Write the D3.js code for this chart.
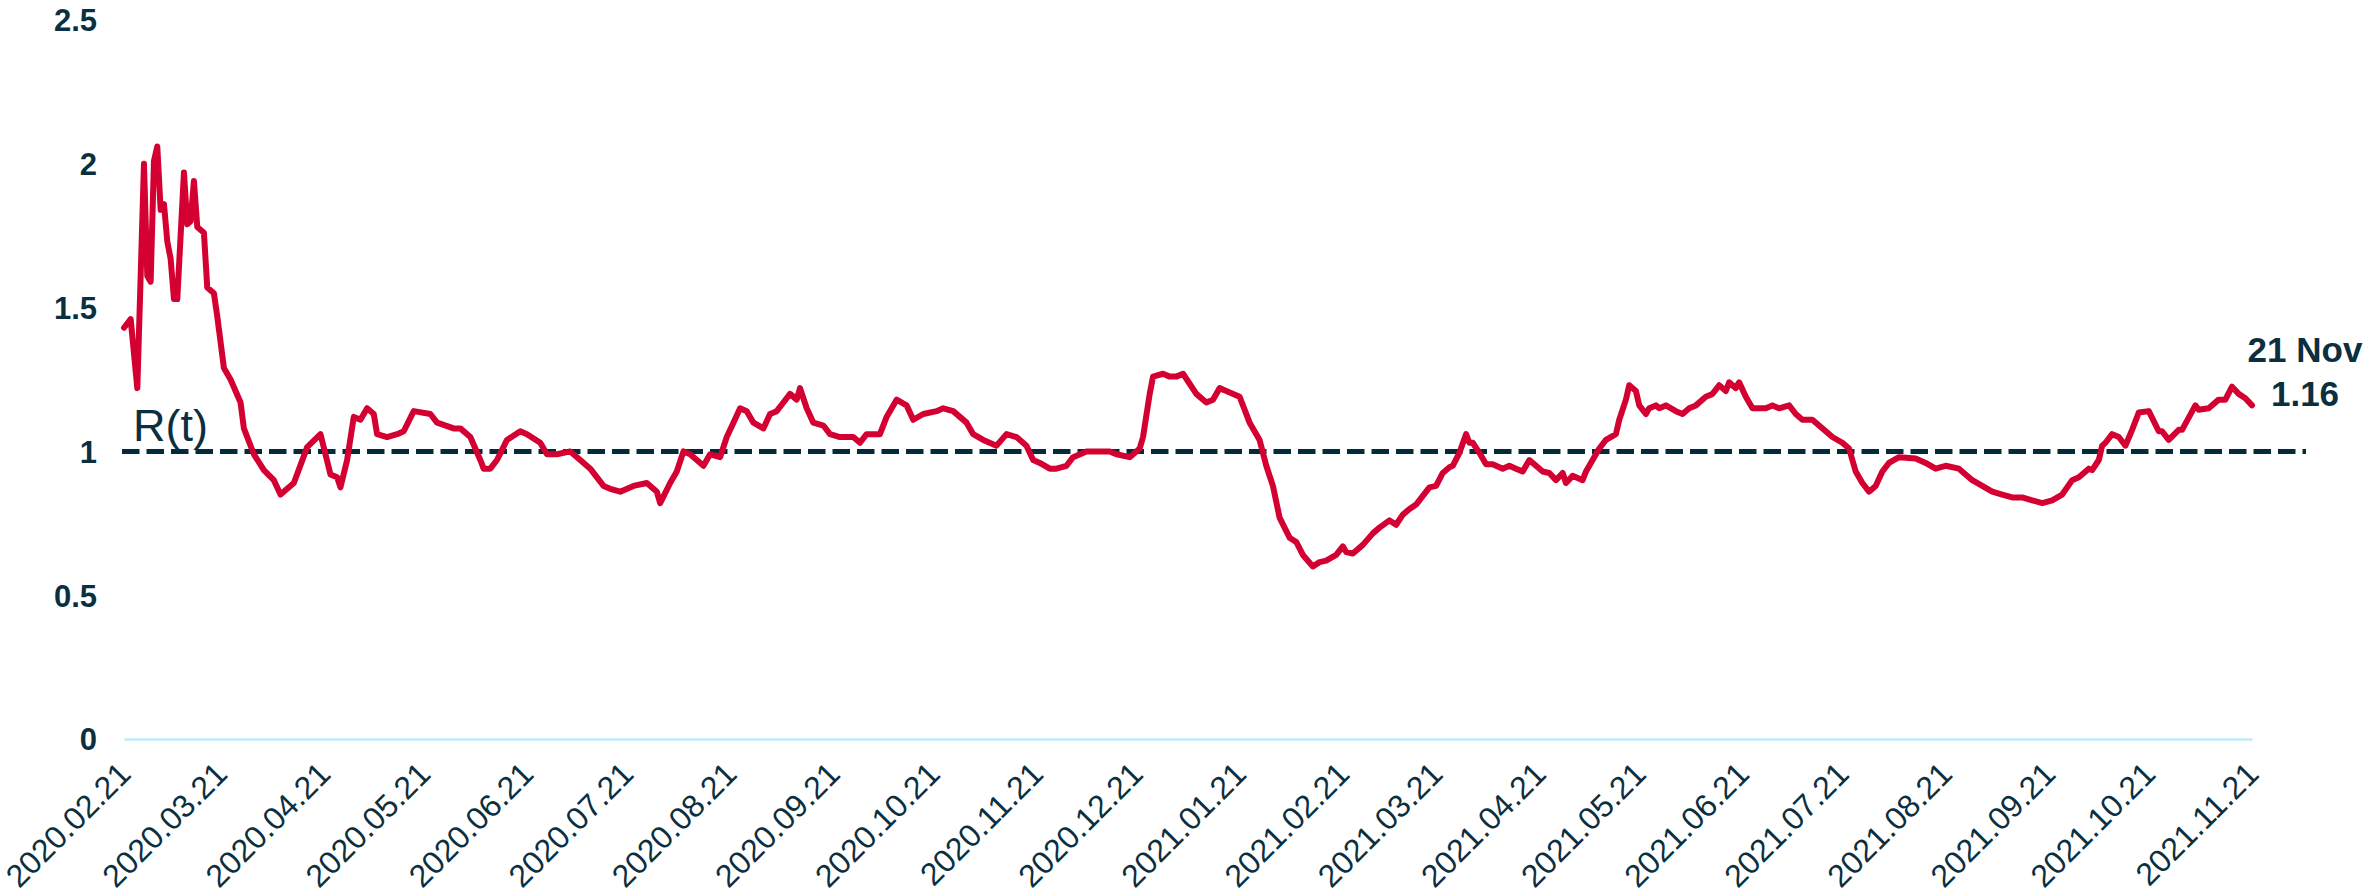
<!DOCTYPE html>
<html>
<head>
<meta charset="utf-8">
<script src="https://cdn.jsdelivr.net/npm/d3@7"></script>
<style>
  html, body { margin: 0; padding: 0; background: #ffffff; }
  svg { display: block; }
</style>
</head>
<body>
<svg id="chart" width="2366" height="896"></svg>
<script>
// Effective reproduction number R(t), daily estimate.
// Days counted from the first estimate on 2020-02-21.
const startDate = "2020-02-21";

const dayIndex = [
  0, 2, 4, 6, 7, 8, 9, 10, 11, 12, 13, 14, 15, 16, 18, 19, 20, 21, 22, 24,
  25, 27, 28, 30, 32, 35, 36, 39, 42, 45, 47, 51, 55, 59, 62, 64, 65, 67, 69, 71,
  73, 75, 76, 79, 82, 84, 87, 92, 94, 99, 101, 104, 107, 108, 110, 112, 115, 119, 121, 125,
  127, 130, 134, 137, 140, 144, 146, 149, 153, 157, 160, 161, 164, 166, 168, 170, 172, 174, 176, 179,
  181, 183, 185, 187, 189, 192, 194, 196, 198, 200, 202, 203, 205, 207, 210, 212, 215, 219, 221, 223,
  227, 229, 232, 235, 237, 240, 244, 246, 249, 253, 255, 258, 262, 265, 268, 271, 273, 275, 278, 280,
  283, 285, 289, 293, 296, 298, 302, 305, 306, 308, 309, 312, 314, 316, 318, 322, 325, 327, 329, 331,
  335, 338, 341, 343, 345, 347, 350, 352, 354, 357, 359, 361, 364, 366, 367, 369, 372, 375, 377, 380,
  382, 384, 386, 388, 391, 392, 394, 396, 398, 399, 401, 403, 404, 405, 407, 409, 411, 414, 416, 418,
  420, 422, 424, 426, 428, 430, 432, 433, 435, 438, 439, 441, 443, 445, 448, 449, 451, 452, 454, 455,
  457, 458, 460, 461, 463, 466, 468, 470, 472, 475, 477, 479, 481, 482, 484, 485, 487, 489, 493, 495,
  497, 500, 502, 504, 507, 509, 511, 513, 516, 518, 520, 522, 524, 526, 528, 530, 533, 538, 541, 544,
  547, 551, 555, 558, 561, 564, 567, 570, 573, 576, 579, 582, 585, 587, 590, 591, 593, 594, 595, 597,
  599, 601, 603, 605, 608, 611, 612, 614, 617, 618, 622, 623, 626, 629, 631, 633, 635, 637, 639
];

const rValues = [
  1.43, 1.46, 1.22, 2.00, 1.61, 1.59, 2.01, 2.06, 1.84, 1.86, 1.73, 1.67, 1.53, 1.53, 1.97, 1.79, 1.80, 1.94, 1.78, 1.76,
  1.57, 1.55, 1.47, 1.29, 1.25, 1.17, 1.08, 0.99, 0.935, 0.90, 0.85, 0.89, 1.015, 1.06, 0.92, 0.91, 0.875, 0.97, 1.12, 1.11,
  1.15, 1.13, 1.06, 1.05, 1.06, 1.07, 1.14, 1.13, 1.10, 1.08, 1.08, 1.05, 0.97, 0.94, 0.94, 0.97, 1.04, 1.07, 1.06, 1.03,
  0.99, 0.99, 1.00, 0.97, 0.94, 0.88, 0.87, 0.86, 0.88, 0.89, 0.86, 0.82, 0.89, 0.93, 1.00, 0.99, 0.97, 0.95, 0.99, 0.98,
  1.05, 1.10, 1.15, 1.14, 1.10, 1.08, 1.13, 1.14, 1.17, 1.20, 1.18, 1.22, 1.15, 1.10, 1.09, 1.06, 1.05, 1.05, 1.03, 1.06,
  1.06, 1.12, 1.18, 1.16, 1.11, 1.13, 1.14, 1.15, 1.14, 1.10, 1.06, 1.04, 1.02, 1.06, 1.05, 1.02, 0.97, 0.96, 0.94, 0.94,
  0.95, 0.98, 1.00, 1.00, 1.00, 0.99, 0.98, 1.01, 1.05, 1.20, 1.26, 1.27, 1.26, 1.26, 1.27, 1.20, 1.17, 1.18, 1.22, 1.21,
  1.19, 1.10, 1.04, 0.95, 0.88, 0.77, 0.70, 0.685, 0.64, 0.60, 0.615, 0.62, 0.64, 0.67, 0.65, 0.645, 0.675, 0.715, 0.735, 0.76,
  0.745, 0.78, 0.80, 0.815, 0.86, 0.875, 0.88, 0.925, 0.945, 0.95, 0.995, 1.06, 1.03, 1.03, 0.995, 0.955, 0.955, 0.94, 0.95, 0.94,
  0.93, 0.97, 0.95, 0.93, 0.925, 0.90, 0.925, 0.89, 0.915, 0.90, 0.93, 0.97, 1.01, 1.04, 1.06, 1.11, 1.18, 1.23, 1.21, 1.16,
  1.13, 1.15, 1.16, 1.15, 1.16, 1.14, 1.13, 1.15, 1.16, 1.19, 1.20, 1.23, 1.21, 1.24, 1.22, 1.24, 1.19, 1.15, 1.15, 1.16,
  1.15, 1.16, 1.13, 1.11, 1.11, 1.09, 1.07, 1.05, 1.03, 1.01, 0.93, 0.89, 0.86, 0.88, 0.93, 0.96, 0.98, 0.975, 0.96, 0.94,
  0.95, 0.94, 0.90, 0.88, 0.86, 0.85, 0.84, 0.84, 0.83, 0.82, 0.83, 0.85, 0.90, 0.91, 0.94, 0.935, 0.97, 1.02, 1.03, 1.06,
  1.05, 1.02, 1.075, 1.135, 1.14, 1.07, 1.07, 1.04, 1.075, 1.075, 1.16, 1.145, 1.15, 1.18, 1.18, 1.225, 1.20, 1.185, 1.16
];

const xTickLabels = [
  "2020.02.21", "2020.03.21", "2020.04.21", "2020.05.21", "2020.06.21", "2020.07.21",
  "2020.08.21", "2020.09.21", "2020.10.21", "2020.11.21", "2020.12.21", "2021.01.21",
  "2021.02.21", "2021.03.21", "2021.04.21", "2021.05.21", "2021.06.21", "2021.07.21",
  "2021.08.21", "2021.09.21", "2021.10.21", "2021.11.21"
];

const yTickValues = [0, 0.5, 1, 1.5, 2, 2.5];
const yTickLabels = ["0", "0.5", "1", "1.5", "2", "2.5"];

const thresholdValue = 1;
const thresholdLabel = "R(t)";
const lastDateLabel = "21 Nov";
const lastValueLabel = "1.16";

// ---- drawing ----
const svg = d3.select("#chart");
const textColor = "#0b2f3f";
const lineColor = "#d50032";

const parseDay = d3.utcParse("%Y-%m-%d");
const parseTick = d3.utcParse("%Y.%m.%d");
const t0 = parseDay(startDate);

const series = dayIndex.map((d, i) => ({ date: d3.utcDay.offset(t0, d), value: rValues[i] }));
const tickDates = xTickLabels.map(parseTick);

const x = d3.scaleUtc()
  .domain([tickDates[0], tickDates[tickDates.length - 1]])
  .range([124, 2252]);

const y = d3.scaleLinear()
  .domain([0, 2.5])
  .range([739, 20]);

// y axis labels (no axis line)
const yAxis = d3.axisLeft(y)
  .tickValues(yTickValues)
  .tickFormat((d, i) => yTickLabels[i])
  .tickSize(0)
  .tickPadding(0);

const gy = svg.append("g")
  .attr("transform", "translate(97,0)")
  .call(yAxis);
gy.select(".domain").remove();
gy.selectAll("text")
  .attr("fill", textColor)
  .attr("font-family", "'Liberation Sans', Arial, sans-serif")
  .attr("font-weight", "bold")
  .attr("font-size", 31)
  .attr("dy", "0.35em");

// x axis: light baseline plus rotated month labels
const xAxis = d3.axisBottom(x)
  .tickValues(tickDates)
  .tickFormat((d, i) => xTickLabels[i])
  .tickSize(0)
  .tickPadding(0);

const gx = svg.append("g")
  .attr("transform", `translate(0,${y(0)})`)
  .call(xAxis);
gx.select(".domain")
  .attr("stroke", "#c3ebfb")
  .attr("stroke-width", 2.5);
gx.selectAll("text")
  .attr("fill", textColor)
  .attr("font-family", "'Liberation Sans', Arial, sans-serif")
  .attr("font-size", 32)
  .attr("text-anchor", "end")
  .attr("dy", null)
  .attr("y", null)
  .attr("transform", "translate(8,37) rotate(-45)");

// threshold line at R = 1
svg.append("line")
  .attr("x1", 122)
  .attr("x2", 2306)
  .attr("y1", y(thresholdValue))
  .attr("y2", y(thresholdValue))
  .attr("stroke", "#032b3c")
  .attr("stroke-width", 5)
  .attr("stroke-dasharray", "17.5 7");

svg.append("text")
  .attr("x", 133)
  .attr("y", y(thresholdValue) - 10)
  .attr("fill", textColor)
  .attr("font-family", "'Liberation Sans', Arial, sans-serif")
  .attr("font-size", 45)
  .text(thresholdLabel);

// R(t) series
const line = d3.line()
  .x(d => x(d.date))
  .y(d => y(d.value));

svg.append("path")
  .datum(series)
  .attr("fill", "none")
  .attr("stroke", lineColor)
  .attr("stroke-width", 6)
  .attr("stroke-linejoin", "round")
  .attr("stroke-linecap", "round")
  .attr("d", line);

// latest value annotation
const last = series[series.length - 1];
const annX = x(last.date) + 53;
svg.append("text")
  .attr("x", annX)
  .attr("y", y(last.value) - 43)
  .attr("text-anchor", "middle")
  .attr("fill", textColor)
  .attr("font-family", "'Liberation Sans', Arial, sans-serif")
  .attr("font-weight", "bold")
  .attr("font-size", 35)
  .text(lastDateLabel);
svg.append("text")
  .attr("x", annX)
  .attr("y", y(last.value) + 1)
  .attr("text-anchor", "middle")
  .attr("fill", textColor)
  .attr("font-family", "'Liberation Sans', Arial, sans-serif")
  .attr("font-weight", "bold")
  .attr("font-size", 35)
  .text(lastValueLabel);
</script>
</body>
</html>
